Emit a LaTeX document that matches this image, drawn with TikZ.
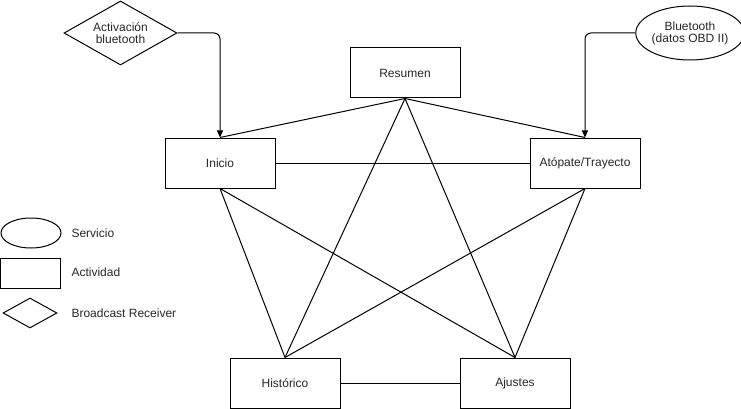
\documentclass[tikz,border=0pt]{standalone}
\usepackage{fontspec}
\setmainfont{Liberation Sans}
\usetikzlibrary{shapes.geometric,arrows.meta}
\begin{document}
\begin{tikzpicture}[x=1pt,y=-1pt,
  every node/.style={font=\fontsize{12}{14}\selectfont, align=center, text=black!85},
  actbox/.style={draw, line width=1pt, minimum width=110pt, minimum height=50pt, inner sep=0pt},
  servshape/.style={draw, line width=1pt, ellipse, inner sep=0pt},
  recvshape/.style={draw, line width=1pt, diamond, aspect=1.75, inner sep=0pt},
  link/.style={line width=1pt},
  feed/.style={line width=1pt, rounded corners=6pt, -{Triangle[length=7pt,width=6pt]}},
  legtext/.style={anchor=west}]
\useasboundingbox (0,0) rectangle (741,409);
% activities
\node[actbox] (res) at (405,73) {Resumen};
\node[actbox] (ini) at (220,163) {Inicio};
\node[actbox] (ato) at (585,163) {Atópate/Trayecto};
\node[actbox] (his) at (285,383) {Histórico};
\node[actbox] (aju) at (515,383) {Ajustes};
% receiver and service
\node[recvshape, minimum width=113pt, minimum height=64pt] (act) at (120.5,33) {Activación\\[-2pt]bluetooth};
\node[servshape, minimum width=101pt, minimum height=54pt] (blu) at (690,33) {Bluetooth\\[-2pt](datos OBD II)};
% links
\draw[link] (res.south) -- (ini.north);
\draw[link] (res.south) -- (ato.north);
\draw[link] (res.south) -- (his.north);
\draw[link] (res.south) -- (aju.north);
\draw[link] (ini.east) -- (ato.west);
\draw[link] (ini.south) -- (his.north);
\draw[link] (ini.south) -- (aju.north);
\draw[link] (ato.south) -- (his.north);
\draw[link] (ato.south) -- (aju.north);
\draw[link] (his.east) -- (aju.west);
% feeds
\draw[feed] (act.east) -| (ini.north);
\draw[feed] (blu.west) -| (ato.north);
% legend
\node[servshape, minimum width=60pt, minimum height=30pt] (lgs) at (31,233) {};
\node[draw, line width=1pt, minimum width=60pt, minimum height=30pt, inner sep=0pt] (lga) at (30,273) {};
\node[recvshape, minimum width=54pt, minimum height=30pt] (lgb) at (30,313) {};
\node[legtext] (lgst) at (68,233) {Servicio};
\node[legtext] (lgat) at (68,272) {Actividad};
\node[legtext] (lgbt) at (68,313) {Broadcast Receiver};
\end{tikzpicture}
\end{document}
